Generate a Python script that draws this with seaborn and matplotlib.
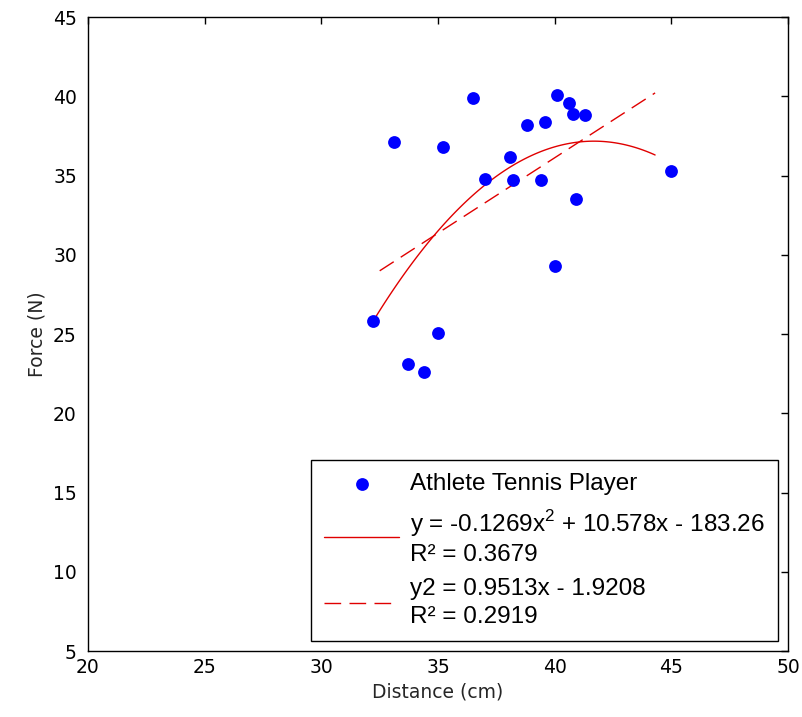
import numpy as np
import pandas as pd
import matplotlib
matplotlib.use("Agg")
import matplotlib.pyplot as plt
import seaborn as sns

# dados
distancia = [32.2, 33.1, 33.7, 34.4, 35.0, 35.2, 36.5, 37.0, 38.1, 38.2,
             38.8, 39.4, 39.6, 40.0, 40.1, 40.6, 40.8, 41.3, 40.9, 45.0]
forca = [25.8, 37.1, 23.1, 22.6, 25.1, 36.8, 39.9, 34.8, 36.2, 34.7,
         38.2, 34.7, 38.4, 29.3, 40.1, 39.6, 38.9, 38.8, 33.5, 35.3]

# coeficientes das curvas de ajuste (legenda)
coef_quad = [-0.1269, 10.578, -183.26]
coef_lin = [0.9513, -1.9208]
inicio_quad, inicio_lin, fim_ajuste = 32.2, 32.5, 44.3

rotulo_pontos = 'Athlete Tennis Player'
rotulo_quad = 'y = -0.1269x$^2$ + 10.578x - 183.26\nR² = 0.3679'
rotulo_lin = 'y2 = 0.9513x - 1.9208\nR² = 0.2919'

df = pd.DataFrame({'dist': distancia, 'forca': forca})
xq = np.linspace(inicio_quad, fim_ajuste, 100)
xl = np.linspace(inicio_lin, fim_ajuste, 100)
quad = pd.DataFrame({'x': xq, 'y': np.polyval(coef_quad, xq)})
lin = pd.DataFrame({'x': xl, 'y': np.polyval(coef_lin, xl)})

sns.set_style('white')
plt.rcParams['font.family'] = ['DejaVu Sans']
plt.rcParams['mathtext.fontset'] = 'custom'
plt.rcParams['mathtext.rm'] = 'Liberation Sans'

fig = plt.figure(figsize=(8.02, 7.17), dpi=100)
ax = fig.add_axes([0.1097, 0.092, 0.873, 0.884])

sns.scatterplot(x='dist', y='forca', data=df, color='#0000ff', s=85,
                edgecolor='#0000ff', linewidth=0, ax=ax, label=rotulo_pontos, zorder=3)
sns.lineplot(x='x', y='y', data=quad, color='#e00000', linewidth=1,
             ax=ax, label=rotulo_quad)
sns.lineplot(x='x', y='y', data=lin, color='#e00000', linewidth=1,
             ax=ax, label=rotulo_lin, dashes=False)
ax.lines[-1].set_dashes([12, 6])

ax.set_xlim(20, 50)
ax.set_ylim(5, 45)
ax.set_xticks(range(20, 51, 5))
ax.set_yticks(range(5, 46, 5))
ax.tick_params(direction='in', length=5, width=1, top=True, right=True,
               labelsize=13.5, colors='black')
ax.tick_params(axis='y', pad=8)
ax.tick_params(axis='x', pad=5)
for s in ax.spines.values():
    s.set_color('black')
    s.set_linewidth(1)
ax.set_xlabel('Distance (cm)', fontsize=13.5, labelpad=4)
ax.set_ylabel('Force (N)', fontsize=13.5, labelpad=5)

leg = ax.legend(loc='lower right', bbox_to_anchor=(0.986, 0.016), borderaxespad=0,
                prop={'family': 'Liberation Sans', 'size': 17.5},
                frameon=True, fancybox=False, framealpha=1, edgecolor='black',
                handlelength=3.1, borderpad=0.55, labelspacing=0.52, handletextpad=0.45)
leg.get_frame().set_linewidth(1)
for t in leg.get_texts():
    t.set_linespacing(1.3)
    t.set_color('black')

fig.savefig('out.png', dpi=100)
